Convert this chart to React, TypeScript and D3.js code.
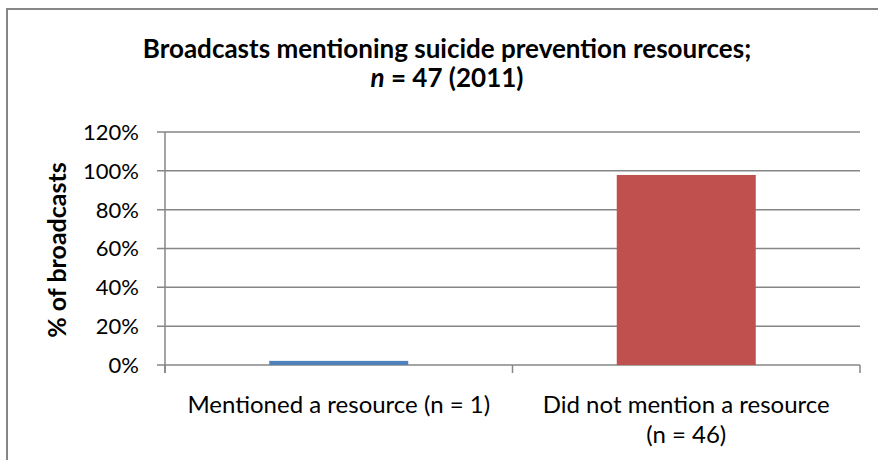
import React from "react";
import * as d3 from "d3";

const categories: string[][] = [
  ["Mentioned a resource (n = 1)"],
  ["Did not mention a resource", "(n = 46)"],
];
const values: number[] = [1 / 47, 46 / 47];
const colors: string[] = ["#4F81BD", "#C0504D"];
const yTicks: number[] = [0, 0.2, 0.4, 0.6, 0.8, 1.0, 1.2];

const W = 878;
const H = 460;
const FONT = "Lato, 'Open Sans', sans-serif";

export default function App() {
  const left = 165;
  const right = 860;
  const top = 132;
  const bottom = 365;
  const x = d3.scaleBand<number>().domain(d3.range(categories.length)).range([left, right]).padding(0);
  const y = d3.scaleLinear().domain([0, 1.2]).range([bottom, top]);
  const barW = x.bandwidth() * 0.4;
  const fmt = d3.format(".0%");
  const grid = "#868686";

  return (
    <svg width={W} height={H} style={{ position: "absolute", left: 0, top: 0, background: "#fff" }} fontFamily={FONT}>
      <rect x={7} y={9} width={900} height={500} fill="#fff" stroke={grid} strokeWidth={2} />
      <text x={447} y={58} textAnchor="middle" fontSize={26} fontWeight="bold" fill="#000">
        Broadcasts mentioning suicide prevention resources;
      </text>
      <text x={447} y={87} textAnchor="middle" fontSize={26} fontWeight="bold" fill="#000">
        <tspan fontStyle="italic">n</tspan> = 47 (2011)
      </text>
      {yTicks.map((t) => (
        <g key={t}>
          <line x1={left - 8} x2={right} y1={y(t)} y2={y(t)} stroke={grid} strokeWidth={1.5} />
          <text x={139} y={y(t)} dy="0.36em" textAnchor="end" fontSize={22} fill="#000">
            {fmt(t)}
          </text>
        </g>
      ))}
      <line x1={left} x2={left} y1={top} y2={bottom + 8} stroke={grid} strokeWidth={1.5} />
      {d3.range(categories.length + 1).map((i) => {
        const xx = i < categories.length ? (x(i) as number) : right;
        return <line key={i} x1={xx} x2={xx} y1={bottom} y2={bottom + 8} stroke={grid} strokeWidth={1.5} />;
      })}
      {values.map((v, i) => (
        <rect
          key={i}
          x={(x(i) as number) + x.bandwidth() / 2 - barW / 2}
          y={y(v)}
          width={barW}
          height={bottom - y(v)}
          fill={colors[i]}
        />
      ))}
      {categories.map((lines, i) => (
        <text key={i} textAnchor="middle" fontSize={24} fill="#000">
          {lines.map((l, j) => (
            <tspan key={j} x={(x(i) as number) + x.bandwidth() / 2} y={413 + j * 30}>
              {l}
            </tspan>
          ))}
        </text>
      ))}
      <text
        transform={`translate(66, 250) rotate(-90)`}
        textAnchor="middle"
        fontSize={25}
        fontWeight="bold"
        fill="#000"
      >
        % of broadcasts
      </text>
    </svg>
  );
}
